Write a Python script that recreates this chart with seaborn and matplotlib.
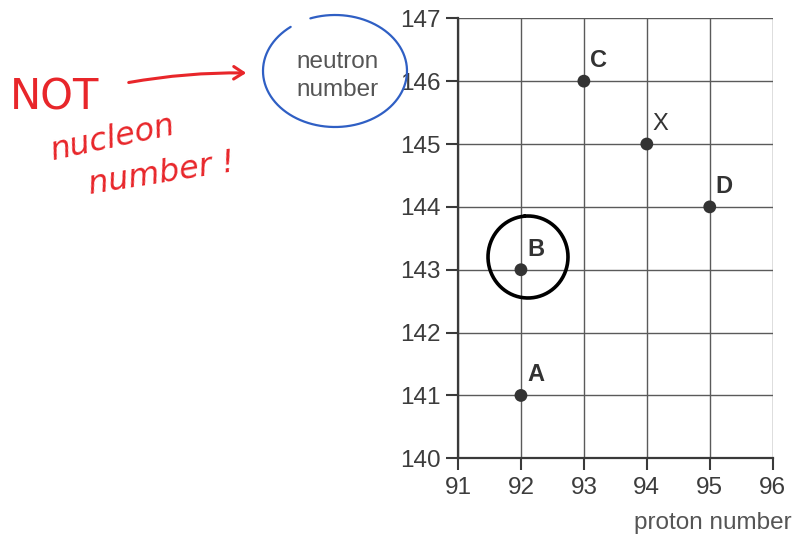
import numpy as np
import pandas as pd
import matplotlib
matplotlib.use("Agg")
import matplotlib.pyplot as plt
import seaborn as sns

# Nuclides on the proton / neutron grid
labels = ["C", "X", "D", "B", "A"]
proton_number = [93, 94, 95, 92, 92]
neutron_number = [146, 145, 144, 143, 141]
bold_labels = [True, False, True, True, True]

x_ticks = [91, 92, 93, 94, 95, 96]
y_ticks = [140, 141, 142, 143, 144, 145, 146, 147]

df = pd.DataFrame({"proton": proton_number, "neutron": neutron_number, "label": labels})

sns.set_style("white")
plt.rcParams["font.family"] = ["Liberation Sans", "DejaVu Sans"]

W, H = 798, 537
fig = plt.figure(figsize=(W / 100, H / 100), dpi=100)
ax = fig.add_axes([458 / W, 1 - 458.3 / H, (772.7 - 458) / W, (458.3 - 18.3) / H])

sns.scatterplot(data=df, x="proton", y="neutron", ax=ax, color="#333333",
                s=85, edgecolor="none", zorder=5, legend=False)

ax.set_xlim(x_ticks[0], x_ticks[-1])
ax.set_ylim(y_ticks[0], y_ticks[-1])
ax.set_xticks(x_ticks)
ax.set_yticks(y_ticks)
ax.grid(True, color="#5a5a5a", lw=1.0)
ax.set_axisbelow(True)
for side in ["left", "bottom", "right", "top"]:
    ax.spines[side].set_visible(side in ("left", "bottom"))
    ax.spines[side].set_color("#3a3a3a")
    ax.spines[side].set_linewidth(1.6)
ax.tick_params(axis="both", direction="out", length=8.5, width=1.5, color="#3a3a3a",
               labelsize=17.5, labelcolor="#3c3c3c", bottom=True, left=True)
ax.tick_params(axis="y", pad=4)
ax.tick_params(axis="x", pad=5)
ax.set_xlabel("")
ax.set_ylabel("")

for lab, px, nz, b in zip(labels, proton_number, neutron_number, bold_labels):
    ax.annotate(lab, (px, nz), xytext=(6, 9), textcoords="offset pixels",
                ha="left", va="bottom", fontsize=17,
                fontweight="bold" if b else "normal", color="#333333")

# Axis titles placed as free text
fig.text(792 / W, 1 - 523 / H, "proton number", ha="right", va="center",
         fontsize=17.5, color="#555555")
fig.text(338 / W, 1 - 76 / H, "neutron\nnumber", ha="center", va="center",
         fontsize=17.5, color="#555555", linespacing=1.3)

# Hand-drawn notes on top of the figure, in pixel coordinates
ov = fig.add_axes([0, 0, 1, 1], zorder=10)
ov.set_xlim(0, W)
ov.set_ylim(H, 0)
ov.axis("off")
ov.patch.set_visible(False)

red = "#e8262a"
ov.text(10, 110, "NOT", color=red, fontsize=30, ha="left", va="baseline",
        family="DejaVu Sans")
ov.text(48, 160, "nucleon", color=red, fontsize=23, ha="left", va="baseline",
        rotation=12, fontstyle="italic", family="DejaVu Sans")
ov.text(86, 194, "number !", color=red, fontsize=23, ha="left", va="baseline",
        rotation=9, fontstyle="italic", family="DejaVu Sans")
ov.annotate("", xy=(249, 73), xytext=(126, 83),
            arrowprops=dict(arrowstyle="->,head_length=0.7,head_width=0.45",
                            color=red, lw=2.2, connectionstyle="arc3,rad=-0.05"))

# Blue loop around the neutron-number label
t = np.radians(np.linspace(128, 470, 300))
ov.plot(335 + 72 * np.cos(t), 71 - 56 * np.sin(t), color="#2f5fc4", lw=1.6,
        solid_capstyle="round")

# Black ring around B
t = np.radians(np.linspace(95, 455, 300))
ov.plot(528 + 40 * np.cos(t), 257 - 41 * np.sin(t), color="black", lw=2.6,
        solid_capstyle="round")

fig.savefig("out.png", dpi=100, facecolor="white")
